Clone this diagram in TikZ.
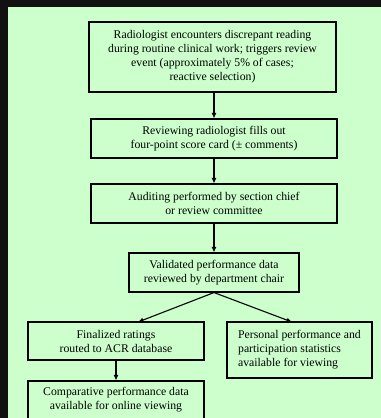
\documentclass[tikz,border=0pt]{standalone}
\usepackage{fontspec}
\setmainfont{Liberation Serif}
\usetikzlibrary{arrows.meta}
\definecolor{bggreen}{RGB}{204,255,204}
\definecolor{frameblack}{RGB}{17,17,17}
\tikzset{
  flowbox/.style={draw=black, line width=1.1bp, fill=bggreen, inner sep=0pt,
    align=center, font=\fontsize{11.8}{14}\selectfont},
  flowarrow/.style={line width=1.1bp, -{Latex[length=5.5bp,width=5bp]}}
}
\begin{document}
\begin{tikzpicture}[x=1bp,y=-1bp]
\useasboundingbox (0,0) rectangle (381,418);
\fill[frameblack] (0,0) rectangle (381,418);
\fill[bggreen] (8,7) rectangle (381,418);

\node[flowbox, minimum width=247bp, minimum height=70bp] (b1) at (212.5,57)
  {Radiologist encounters discrepant reading\\during routine clinical work; triggers review\\event (approximately 5\% of cases;\\reactive selection)};
\node[flowbox, minimum width=246bp, minimum height=39bp] (b2) at (214,138.5)
  {Reviewing radiologist fills out\\four-point score card (\raisebox{0pt}{±} comments)};
\node[flowbox, minimum width=246bp, minimum height=39bp] (b3) at (214,203.5)
  {Auditing performed by section chief\\or review committee};
\node[flowbox, minimum width=170bp, minimum height=39bp] (b4) at (214,272.5)
  {Validated performance data\\reviewed by department chair};
\node[flowbox, minimum width=176bp, minimum height=38bp] (b5) at (116,341)
  {Finalized ratings\\routed to ACR database};
\node[flowbox, align=left, minimum width=145bp, minimum height=56bp] (b6) at (299.5,350)
  {Personal performance and\\participation statistics\\available for viewing};
\node[flowbox, minimum width=176bp, minimum height=38bp] (b7) at (116,400)
  {Comparative performance data\\available for online viewing};

\coordinate (t5) at (138,322);
\coordinate (t6) at (292,322);
\draw[flowarrow] (b1.south -| b2.north) -- (b2.north);
\draw[flowarrow] (b2) -- (b3);
\draw[flowarrow] (b3) -- (b4);
\draw[flowarrow] (b4.south) -- (t5);
\draw[flowarrow] (b4.south) -- (t6);
\draw[flowarrow] (b5) -- (b7);
\end{tikzpicture}
\end{document}
